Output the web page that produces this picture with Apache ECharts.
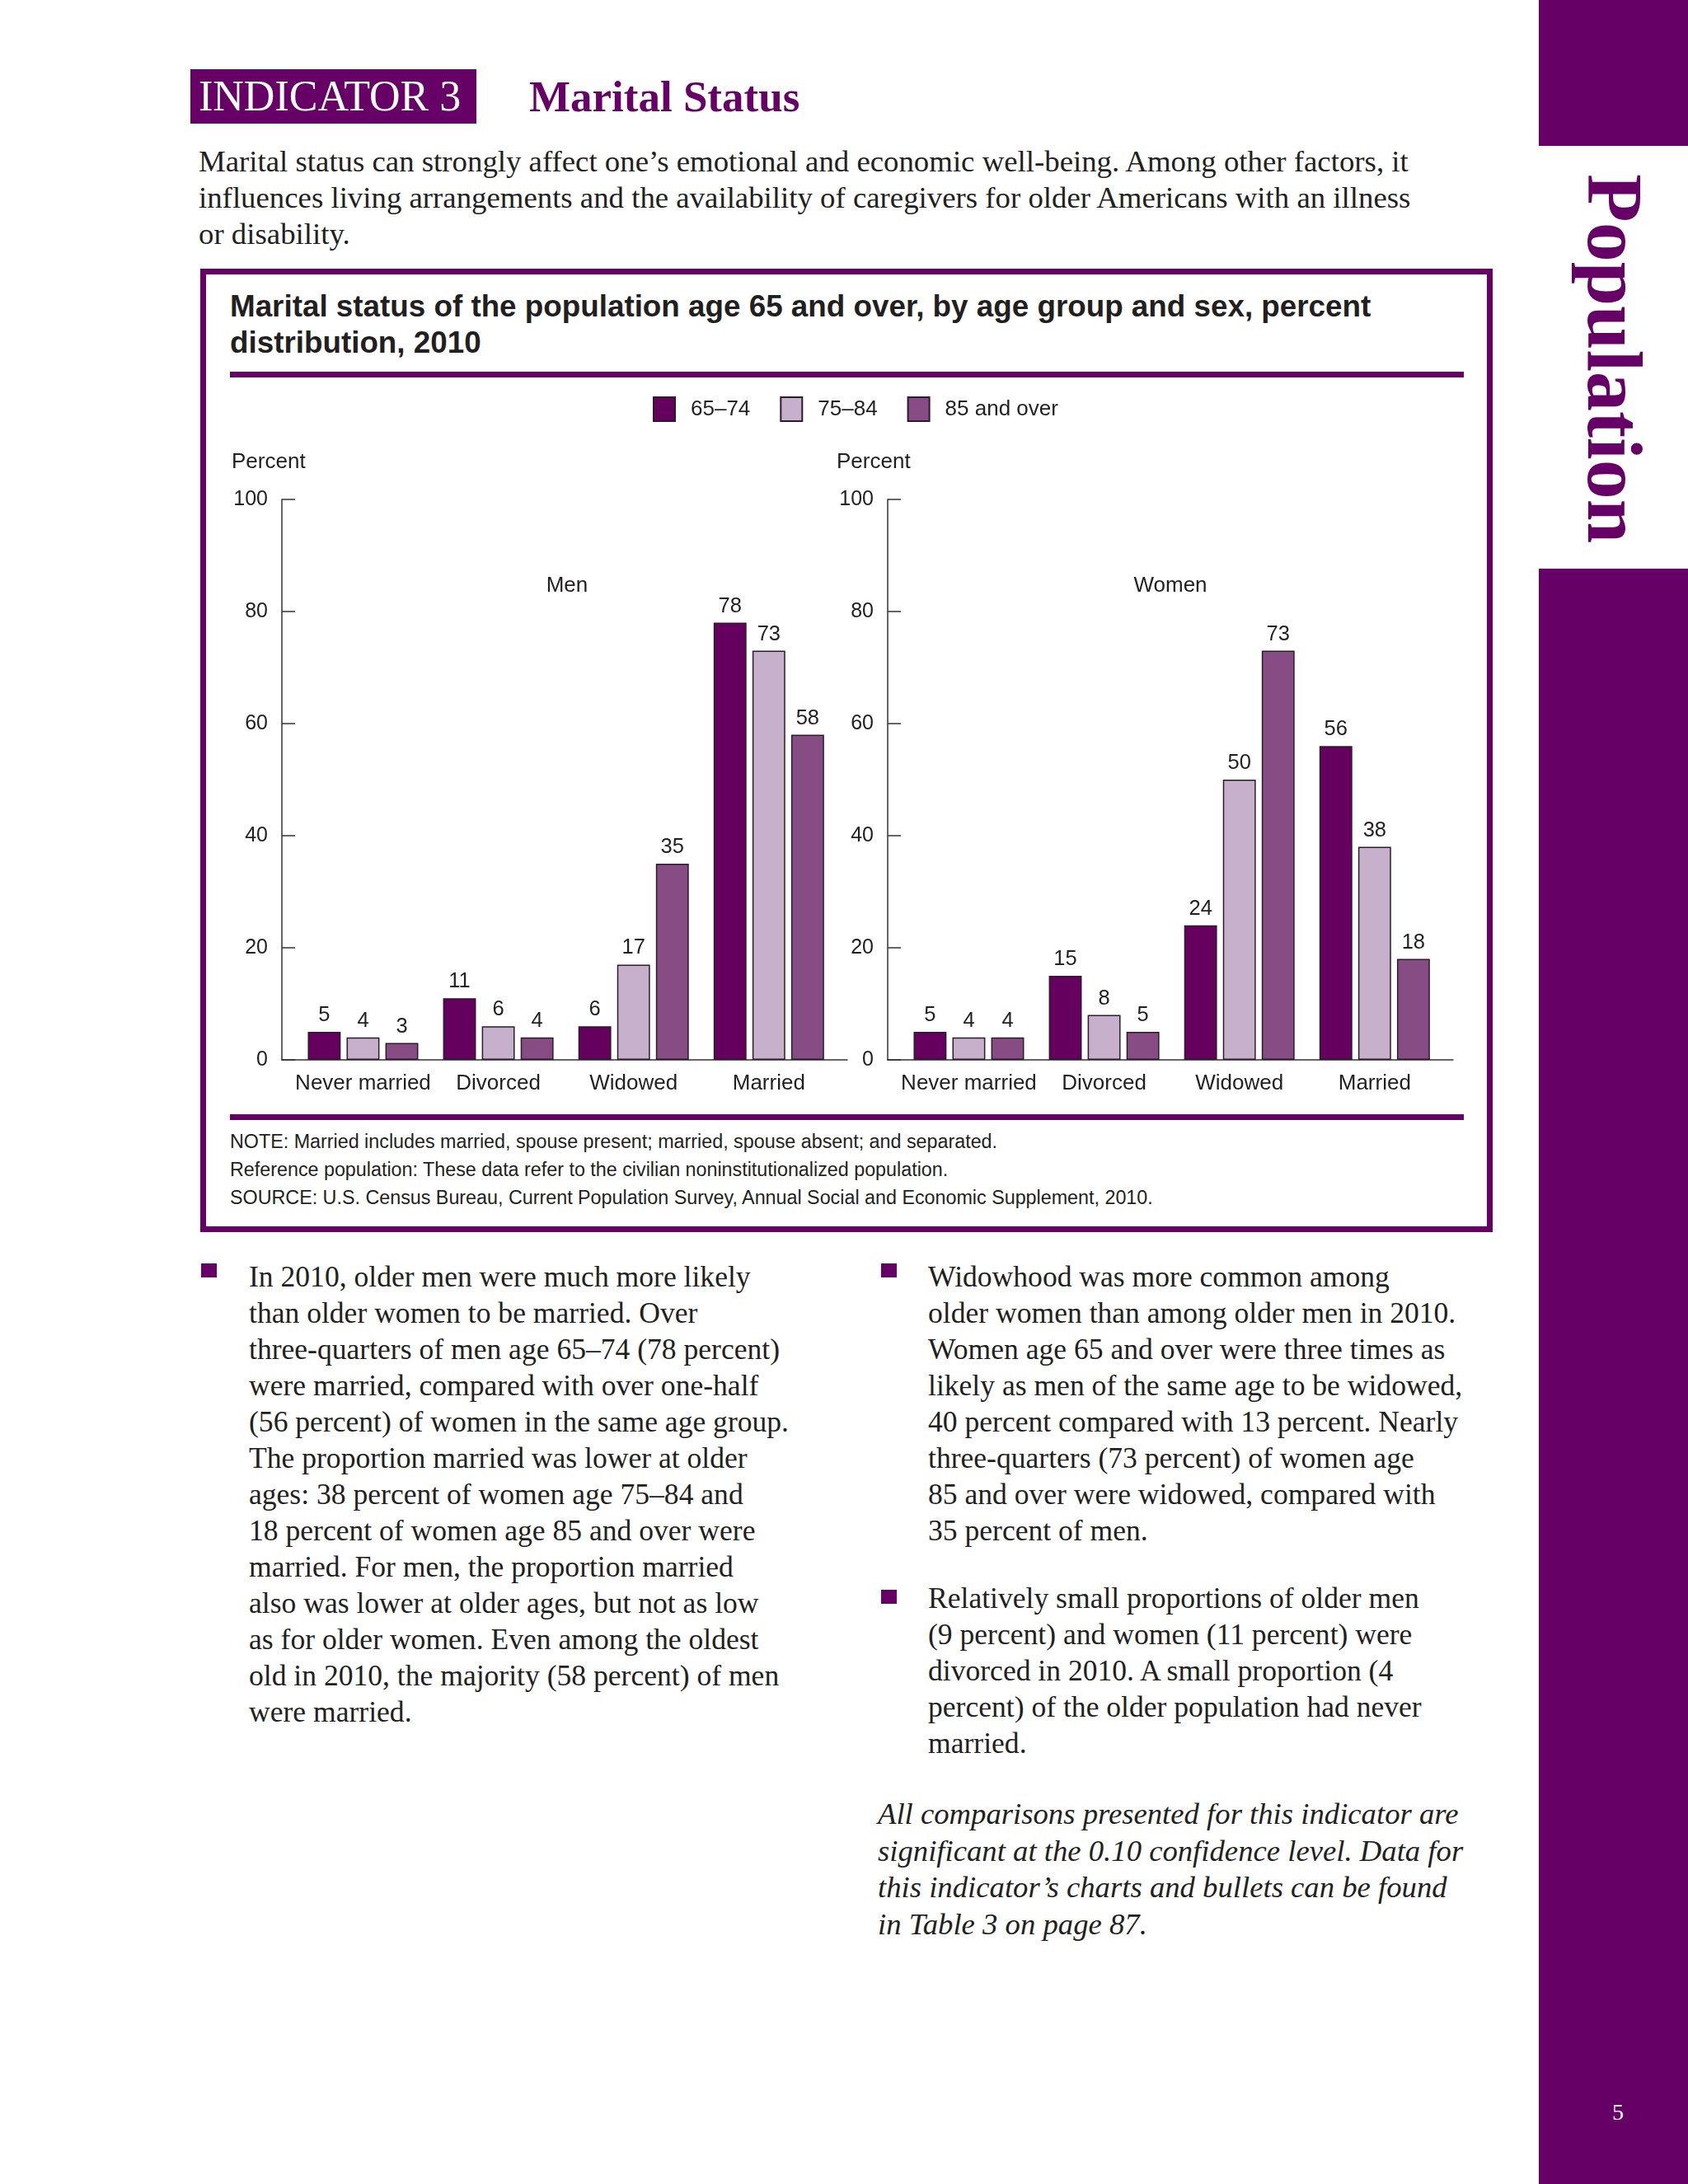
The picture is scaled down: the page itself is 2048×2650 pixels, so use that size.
<!DOCTYPE html>
<html>
<head>
<meta charset="utf-8">
<script src="https://cdn.jsdelivr.net/npm/echarts@6/dist/echarts.min.js"></script>
<style>
  html, body { margin: 0; padding: 0; background: #fff; }
  body { width: 2048px; height: 2650px; position: relative; overflow: hidden; }
  .abs { position: absolute; }
  .serif { font-family: "Liberation Serif", "Times New Roman", serif; color: #231f20; }
  .sans { font-family: "Liberation Sans", Arial, sans-serif; color: #231f20; }
  .line { white-space: nowrap; }
  #chart { position: absolute; left: 0; top: 0; width: 2048px; height: 2650px; z-index: 5; }
</style>
</head>
<body>
<!-- sidebar -->
<div class="abs" style="left:1867px;top:0;width:181px;height:177px;background:#660066;"></div>
<div class="abs" style="left:1867px;top:690px;width:181px;height:1960px;background:#660066;"></div>
<div class="abs serif" style="left:2007px;top:211px;font-size:96px;line-height:96px;font-weight:bold;color:#660066;white-space:nowrap;transform:rotate(90deg);transform-origin:0 0;">Population</div>
<div class="abs serif" style="left:1943px;top:2545px;width:40px;text-align:center;font-size:28px;line-height:36px;color:#fff;">5</div>

<!-- header -->
<div class="abs serif" style="left:231px;top:84px;width:347px;height:66px;background:#660066;color:#fff;font-size:52px;line-height:66px;box-sizing:border-box;padding-left:10px;white-space:nowrap;">INDICATOR 3</div>
<div class="abs serif" style="left:642px;top:84px;height:66px;font-size:53px;line-height:66px;font-weight:bold;color:#660066;white-space:nowrap;">Marital Status</div>

<div class="abs serif" style="left:241px;top:174px;font-size:36.8px;line-height:44px;">
  <div class="line">Marital status can strongly affect one’s emotional and economic well-being. Among other factors, it</div>
  <div class="line">influences living arrangements and the availability of caregivers for older Americans with an illness</div>
  <div class="line">or disability.</div>
</div>

<!-- chart box -->
<div class="abs" style="left:243px;top:326px;width:1568px;height:1169px;border:7px solid #660066;box-sizing:border-box;"></div>
<div class="abs sans" style="left:279px;top:350px;font-size:36.8px;line-height:44px;font-weight:bold;">
  <div class="line">Marital status of the population age 65 and over, by age group and sex, percent</div>
  <div class="line">distribution, 2010</div>
</div>
<div class="abs" style="left:279px;top:451px;width:1497px;height:7px;background:#660066;"></div>
<div class="abs" style="left:279px;top:1352px;width:1497px;height:7px;background:#660066;"></div>
<div class="abs sans" style="left:279px;top:1368px;font-size:23.3px;line-height:34px;">
  <div class="line">NOTE: Married includes married, spouse present; married, spouse absent; and separated.</div>
  <div class="line">Reference population: These data refer to the civilian noninstitutionalized population.</div>
  <div class="line">SOURCE: U.S. Census Bureau, Current Population Survey, Annual Social and Economic Supplement, 2010.</div>
</div>

<!-- body text -->
<div class="abs" style="left:244px;top:1533px;width:19px;height:17px;background:#660066;"></div>
<div class="abs serif" style="left:302px;top:1527px;font-size:35.6px;line-height:44px;">
  <div class="line">In 2010, older men were much more likely</div>
  <div class="line">than older women to be married. Over</div>
  <div class="line">three-quarters of men age 65–74 (78 percent)</div>
  <div class="line">were married, compared with over one-half</div>
  <div class="line">(56 percent) of women in the same age group.</div>
  <div class="line">The proportion married was lower at older</div>
  <div class="line">ages: 38 percent of women age 75–84 and</div>
  <div class="line">18 percent of women age 85 and over were</div>
  <div class="line">married. For men, the proportion married</div>
  <div class="line">also was lower at older ages, but not as low</div>
  <div class="line">as for older women. Even among the oldest</div>
  <div class="line">old in 2010, the majority (58 percent) of men</div>
  <div class="line">were married.</div>
</div>

<div class="abs" style="left:1069px;top:1533px;width:19px;height:17px;background:#660066;"></div>
<div class="abs serif" style="left:1126px;top:1527px;font-size:35.6px;line-height:44px;">
  <div class="line">Widowhood was more common among</div>
  <div class="line">older women than among older men in 2010.</div>
  <div class="line">Women age 65 and over were three times as</div>
  <div class="line">likely as men of the same age to be widowed,</div>
  <div class="line">40 percent compared with 13 percent. Nearly</div>
  <div class="line">three-quarters (73 percent) of women age</div>
  <div class="line">85 and over were widowed, compared with</div>
  <div class="line">35 percent of men.</div>
</div>

<div class="abs" style="left:1069px;top:1929px;width:19px;height:17px;background:#660066;"></div>
<div class="abs serif" style="left:1126px;top:1917px;font-size:35.6px;line-height:44px;">
  <div class="line">Relatively small proportions of older men</div>
  <div class="line">(9 percent) and women (11 percent) were</div>
  <div class="line">divorced in 2010. A small proportion (4</div>
  <div class="line">percent) of the older population had never</div>
  <div class="line">married.</div>
</div>

<div class="abs serif" style="left:1065px;top:2179px;font-size:36.7px;line-height:44.6px;font-style:italic;">
  <div class="line">All comparisons presented for this indicator are</div>
  <div class="line">significant at the 0.10 confidence level. Data for</div>
  <div class="line">this indicator’s charts and bullets can be found</div>
  <div class="line">in Table 3 on page 87.</div>
</div>

<div id="chart"></div>

<script>
// ---------- data ----------
const categories = ['Never married', 'Divorced', 'Widowed', 'Married'];
const ageGroups = ['65–74', '75–84', '85 and over'];
const men_65_74 = [5, 11, 6, 78];
const men_75_84 = [4, 6, 17, 73];
const men_85plus = [3, 4, 35, 58];
const women_65_74 = [5, 15, 24, 56];
const women_75_84 = [4, 8, 50, 38];
const women_85plus = [4, 5, 73, 18];
const yTicks = [0, 20, 40, 60, 80, 100];

// ---------- styles ----------
const colors = ['#66005e', '#c6b0cb', '#884c84'];
const FONT = '"Liberation Sans", Arial, sans-serif';
const TXT = '#231f20';

const chart = echarts.init(document.getElementById('chart'), null, { renderer: 'canvas' });

function toPairs(arr) { return arr.map((v, i) => [i, v]); }

function makeXAxis(gridIndex, min, max) {
  return {
    type: 'value', gridIndex, min, max,
    axisLine: { show: true, onZero: false, lineStyle: { color: '#333', width: 1.5 } },
    axisTick: { show: false },
    splitLine: { show: false },
    axisLabel: {
      customValues: categories.map((c, i) => i),
      formatter: v => categories[Math.round(v)] || '',
      fontFamily: FONT, fontSize: 26, color: TXT, margin: 16
    }
  };
}
function makeYAxis(gridIndex) {
  return {
    type: 'value', gridIndex, min: 0, max: 100, interval: 20,
    axisLine: { show: true, onZero: false, lineStyle: { color: '#333', width: 1.5 } },
    axisTick: { show: true, inside: true, length: 16, lineStyle: { color: '#333', width: 1.5 } },
    splitLine: { show: false },
    axisLabel: {
      customValues: yTicks,
      fontFamily: FONT, fontSize: 25, color: TXT, margin: 17
    }
  };
}

const seriesDefs = [
  [men_65_74, men_75_84, men_85plus],
  [women_65_74, women_75_84, women_85plus]
];
const series = [];
seriesDefs.forEach((group, gi) => {
  group.forEach((arr, si) => {
    series.push({
      type: 'bar', name: ageGroups[si],
      xAxisIndex: gi, yAxisIndex: gi,
      data: toPairs(arr),
      barWidth: '24.3%', barGap: '18%',
      itemStyle: { color: colors[si], borderColor: '#2b1b2b', borderWidth: 1.5 },
      label: {
        show: true, position: 'top', distance: 7,
        fontFamily: FONT, fontSize: 25.5, color: TXT,
        formatter: p => p.value[1]
      },
      emphasis: { disabled: true },
      animation: false
    });
  });
});

chart.setOption({
  animation: false,
  grid: [
    { left: 342, top: 606, width: 686, height: 680 },
    { left: 1077, top: 606, width: 686, height: 680 }
  ],
  legend: {
    data: ageGroups,
    left: 787, top: 476,
    itemWidth: 26, itemHeight: 29, itemGap: 36,
    icon: 'rect',
    textStyle: { fontFamily: FONT, fontSize: 26, color: TXT, padding: [0, 0, 0, 14] },
    selectedMode: false
  },
  xAxis: [makeXAxis(0, -0.6, 3.58), makeXAxis(1, -0.6, 3.58)],
  yAxis: [makeYAxis(0), makeYAxis(1)],
  series,
  graphic: [
    { type: 'text', left: 281, top: 548, style: { text: 'Percent', fontFamily: FONT, fontSize: 26, fill: TXT } },
    { type: 'text', left: 1015, top: 548, style: { text: 'Percent', fontFamily: FONT, fontSize: 26, fill: TXT } },
    { type: 'text', x: 688, y: 711, style: { text: 'Men', fontFamily: FONT, fontSize: 26, fill: TXT, align: 'center', verticalAlign: 'middle' } },
    { type: 'text', x: 1420, y: 711, style: { text: 'Women', fontFamily: FONT, fontSize: 26, fill: TXT, align: 'center', verticalAlign: 'middle' } }
  ]
});
</script>
</body>
</html>
